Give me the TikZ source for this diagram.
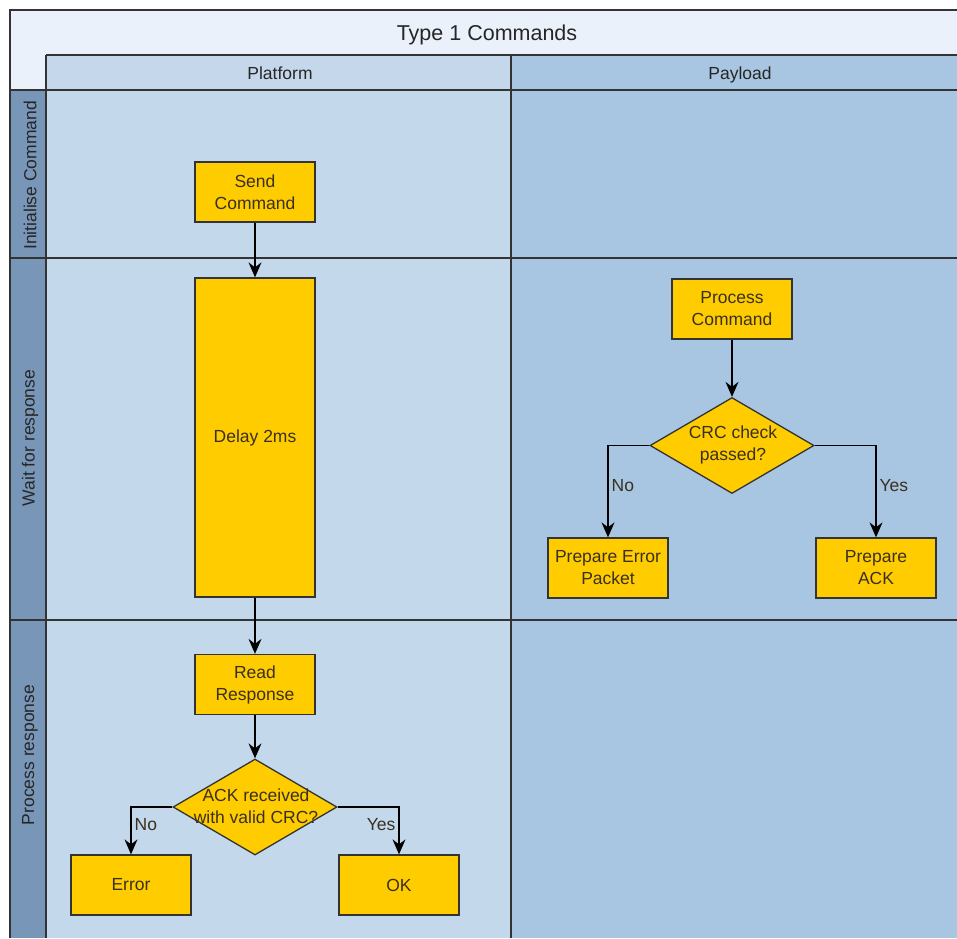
\documentclass[tikz,border=0pt]{standalone}
\usepackage{fontspec}
\setmainfont{Liberation Sans}
\usetikzlibrary{arrows.meta,shapes.geometric}
\definecolor{titlebg}{HTML}{EAF1FB}
\definecolor{hdrA}{HTML}{C5D7EB}
\definecolor{hdrB}{HTML}{A8C6E1}
\definecolor{bodyA}{HTML}{C4D8EC}
\definecolor{bodyB}{HTML}{A8C6E1}
\definecolor{lanebg}{HTML}{7896B8}
\definecolor{boxfill}{HTML}{FFCC00}
\definecolor{linec}{HTML}{333333}
\definecolor{txtc}{HTML}{3A3020}
\tikzset{
  frame/.style={draw=linec, line width=1.5pt},
  stdtext/.style={font=\fontsize{17.5}{22}\selectfont, text=txtc, align=center},
  procbox/.style={stdtext, draw=linec, line width=1.3pt, fill=boxfill, minimum width=120pt, minimum height=60pt, inner sep=0pt},
  decbox/.style={diamond, draw=linec, line width=1.3pt, fill=boxfill, minimum width=164pt, minimum height=96pt, inner sep=0pt},
  arr/.style={draw=black, line width=1.3pt, -{Stealth[length=15pt,width=13pt,inset=5pt]}},
  elabel/.style={stdtext, inner sep=3pt},
  lanelabel/.style={stdtext, text=black!85, rotate=90, inner sep=0pt}
}
\begin{document}
\begin{tikzpicture}[x=1pt,y=-1pt]
\useasboundingbox (0,0) rectangle (957,938);
% backgrounds
\fill[titlebg] (10,10) rectangle (957,90);
\fill[hdrA] (46,55) rectangle (511,90);
\fill[hdrB] (511,55) rectangle (957,90);
\fill[lanebg] (10,90) rectangle (46,938);
\fill[bodyA] (46,90) rectangle (511,938);
\fill[bodyB] (511,90) rectangle (957,938);
% frame lines
\draw[frame] (957,10) -- (10,10) -- (10,938);
\draw[frame] (46,55) -- (957,55);
\draw[frame] (46,55) -- (46,938);
\draw[frame] (511,55) -- (511,938);
\draw[frame] (10,90) -- (957,90);
\draw[frame] (10,258) -- (957,258);
\draw[frame] (10,620) -- (957,620);
% headers
\node[stdtext, font=\fontsize{21.5}{26}\selectfont, text=black!85, anchor=base] (title) at (487,40.5) {Type 1 Commands};
\node[stdtext, text=black!85, anchor=base] (hplat) at (280,79.5) {Platform};
\node[stdtext, text=black!85, anchor=base] (hpay) at (740,79.5) {Payload};
% lane labels
\begin{scope}
\clip (10,92) rectangle (46,258);
\node[lanelabel, anchor=west] (l1) at (30,250) {Initialise Command};
\end{scope}
\node[lanelabel] (l2) at (30,438) {Wait for response};
\node[lanelabel] (l3) at (30,755) {Process response};
% nodes
\node[procbox] (send) at (255,192) {Send\\Command};
\node[procbox, minimum height=319pt] (delay) at (255,437.5) {Delay 2ms};
\node[procbox] (read) at (255,684.5) {Read\\Response};
\node[decbox] (ack) at (255,807) {};
\node[stdtext] (ackt) at (256,806) {ACK received\\with valid CRC?};
\node[procbox] (err) at (131,885) {Error};
\node[procbox] (ok) at (399,885) {OK};
\node[procbox] (proc) at (732,309) {Process\\Command};
\node[decbox] (crc) at (732,445.5) {};
\node[stdtext] (crct) at (733,445) {CRC check\\passed?};
\node[procbox] (perr) at (608,568) {Prepare Error\\Packet};
\node[procbox] (pack) at (876,568) {Prepare\\ACK};
% connectors
\draw[arr] (send) -- (delay);
\draw[arr] (delay) -- (read);
\draw[arr] (read) -- (ack);
\draw[arr] (proc) -- (crc);
\draw[arr] (crc.west) -| node[elabel, pos=0.72, right] {No} (perr.north);
\draw[arr] (crc.east) -| node[elabel, pos=0.72, right] {Yes} (pack.north);
\draw[arr] (ack.west) -| node[elabel, pos=0.69, right] {No} (err.north);
\draw[arr] (ack.east) -| node[elabel, pos=0.69, left] {Yes} (ok.north);
\end{tikzpicture}
\end{document}
